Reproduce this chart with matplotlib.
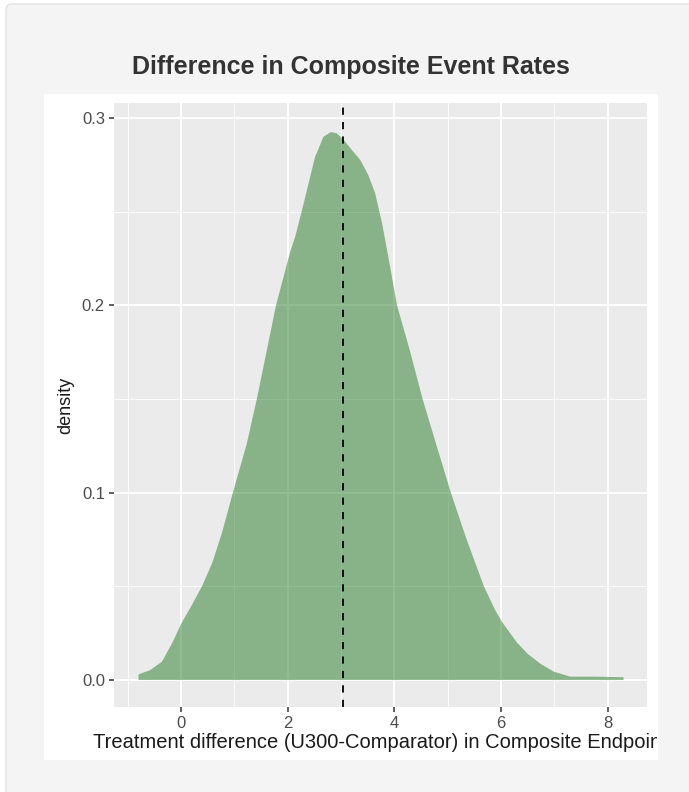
import numpy as np
import matplotlib
matplotlib.use("Agg")
import matplotlib.pyplot as plt
from matplotlib.patches import Rectangle, FancyBboxPatch
from matplotlib.transforms import Bbox, TransformedBbox

plt.rcParams['font.family'] = ['Liberation Sans', 'DejaVu Sans']

# density curve of the treatment difference (read off the estimate)
diff_x = [-0.80, -0.58, -0.36, -0.17, 0.00, 0.20, 0.39, 0.58, 0.76, 0.97,
          1.23, 1.42, 1.60, 1.78, 2.04, 2.14, 2.26, 2.39, 2.51, 2.67,
          2.81, 2.92, 3.05, 3.20, 3.36, 3.51, 3.64, 3.77, 3.92, 4.05,
          4.28, 4.53, 4.80, 5.06, 5.36, 5.68, 5.89, 6.02, 6.30, 6.50,
          6.75, 6.99, 7.30, 7.73, 8.30]
density = [0.0030, 0.0053, 0.0098, 0.0196, 0.030, 0.040, 0.050, 0.0623, 0.078, 0.100,
           0.126, 0.150, 0.175, 0.200, 0.228, 0.2367, 0.250, 0.265, 0.279, 0.290,
           0.2925, 0.2918, 0.2883, 0.283, 0.2776, 0.2696, 0.2598, 0.2438, 0.2207, 0.200,
           0.177, 0.150, 0.1244, 0.100, 0.0747, 0.050, 0.0374, 0.031, 0.020, 0.014,
           0.0085, 0.0045, 0.0018, 0.0018, 0.0015]
mean_diff = 3.04

x_major = [0, 2, 4, 6, 8]
x_minor = [-1, 1, 3, 5, 7]
y_major = [0.0, 0.1, 0.2, 0.3]
y_minor = [0.05, 0.15, 0.25]

W, H = 689, 792
fig = plt.figure(figsize=(W / 100, H / 100), dpi=100, facecolor='white')

# page background and white chart card
fig.patches.append(FancyBboxPatch((6 / W, -0.05), 1.0, (H - 4) / H + 0.05,
                                  boxstyle="round,pad=0,rounding_size=0.008",
                                  transform=fig.transFigure, facecolor='#f4f4f4',
                                  edgecolor='#e2e2e2', linewidth=1.0, zorder=-3))
fig.patches.append(Rectangle((44 / W, (H - 760) / H), (658 - 44) / W, (760 - 94) / H,
                             transform=fig.transFigure, facecolor='white',
                             edgecolor='none', zorder=-2))

ax = fig.add_axes([114 / W, (H - 707) / H, (647 - 114) / W, (707 - 103) / H])
ax.set_facecolor('#ebebeb')
ax.set_xlim(-1.26, 8.74)
ax.set_ylim(-0.0144, 0.308)

ax.set_xticks(x_major)
ax.set_xticks(x_minor, minor=True)
ax.set_yticks(y_major)
ax.set_yticks(y_minor, minor=True)
ax.set_xticklabels([str(v) for v in x_major])
ax.set_yticklabels(['%.1f' % v for v in y_major])
ax.grid(which='major', color='white', linewidth=1.3)
ax.grid(which='minor', color='white', linewidth=0.6)
ax.set_axisbelow(True)
for s in ax.spines.values():
    s.set_visible(False)
ax.tick_params(which='major', length=3.5, width=1.1, color='#333333',
               labelcolor='#4d4d4d', labelsize=12, pad=3)
ax.tick_params(which='minor', length=0)

ax.fill_between(diff_x, 0, density, facecolor='#006400', alpha=0.42,
                edgecolor='none', zorder=2)
ax.axvline(mean_diff, color='black', linestyle=(0, (4, 4)), linewidth=1.3, zorder=3)

fig.text(351 / W, 1 - 67 / H, 'Difference in Composite Event Rates',
         ha='center', va='center', fontsize=18, fontweight='bold', color='#333333')
fig.text(66 / W, 1 - 405 / H, 'density', rotation=90, ha='center', va='center',
         fontsize=13, color='#1a1a1a')
xl = fig.text(93 / W, 1 - 742 / H,
              'Treatment difference (U300-Comparator) in Composite Endpoint',
              ha='left', va='center', fontsize=14.5, color='#1a1a1a')
xl.set_clip_box(TransformedBbox(Bbox([[0, 0], [657 / W, 1]]), fig.transFigure))
xl.set_clip_on(True)

fig.savefig('out.png', dpi=100, facecolor=fig.get_facecolor())
